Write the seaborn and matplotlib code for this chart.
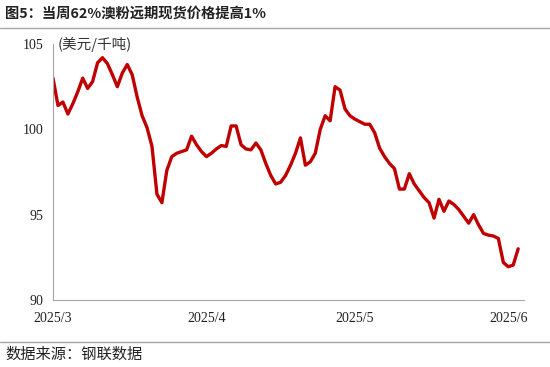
import pandas as pd
import matplotlib.pyplot as plt
import seaborn as sns

# Daily 62% Australian fines forward spot price, USD/t
start_date = '2025-03-01'
prices = [
    103.0, 101.4, 101.6, 100.9, 101.5, 102.2, 103.0, 102.4, 102.8, 103.9,
    104.2, 103.85, 103.2, 102.5, 103.3, 103.8, 103.2, 101.9, 100.8, 100.1,
    99.0, 96.2, 95.7, 97.6, 98.4, 98.6, 98.7, 98.8, 99.6, 99.1,
    98.7, 98.4, 98.6, 98.85, 99.05, 99.0, 100.2, 100.2, 99.1, 98.85,
    98.8, 99.2, 98.8, 98.0, 97.3, 96.8, 96.9, 97.3, 97.9, 98.6,
    99.5, 97.9, 98.1, 98.6, 100.0, 100.8, 100.5, 102.5, 102.3, 101.2,
    100.8, 100.6, 100.45, 100.3, 100.3, 99.8, 98.9, 98.4, 98.0, 97.7,
    96.5, 96.5, 97.4, 96.8, 96.4, 96.0, 95.7, 94.8, 95.9, 95.2,
    95.8, 95.6, 95.3, 94.9, 94.5, 95.0, 94.4, 93.9, 93.8, 93.75,
    93.6, 92.2, 91.95, 92.05, 93.0,
]
tick_dates = ['2025-03-01', '2025-04-01', '2025-05-01', '2025-06-01']
tick_labels = ['2025/3', '2025/4', '2025/5', '2025/6']
y_ticks = [90, 95, 100, 105]

df = pd.DataFrame({'date': pd.date_range(start_date, periods=len(prices), freq='D'),
                   'price': prices})

sns.set_style('white')
plt.rcParams['font.family'] = ['Noto Sans CJK SC', 'DejaVu Sans']

fig = plt.figure(figsize=(5.5, 3.67), dpi=100)
ax = fig.add_axes([0.0964, 0.1826, 0.8566, 0.6974])

sns.lineplot(data=df, x='date', y='price', color='#C00000', linewidth=2.4, ax=ax)
ax.lines[0].set_solid_joinstyle('round')
ax.lines[0].set_solid_capstyle('round')

ax.set_xlim(pd.Timestamp('2025-03-01'), pd.Timestamp('2025-06-04 05:00'))
ax.set_ylim(90, 105)
ax.set_xlabel('')
ax.set_ylabel('')

ax.set_xticks(pd.to_datetime(tick_dates))
ax.set_xticklabels(tick_labels, family='Liberation Serif', fontsize=10, color='#222222')
ax.set_yticks(y_ticks)
ax.set_yticklabels([str(v) for v in y_ticks], family='Liberation Serif', fontsize=10, color='#222222')
ax.tick_params(axis='x', direction='in', length=4, color='#A6A6A6', width=0.8, pad=9)
ax.tick_params(axis='y', direction='out', length=4, color='#A6A6A6', width=0.8, pad=3)

for side in ['top', 'right']:
    ax.spines[side].set_visible(False)
for side in ['left', 'bottom']:
    ax.spines[side].set_color('#A6A6A6')
    ax.spines[side].set_linewidth(0.8)

ax.text(0.01, 1.0, '(美元/千吨)', transform=ax.transAxes, fontsize=10.5,
        color='#333333', va='center', ha='left')

# Title, source and separator lines
fig.text(0.009, 0.962, '图5：当周62%澳粉远期现货价格提高1%', fontsize=10.3,
         fontweight='bold', color='#222222', va='center', ha='left')
fig.add_artist(plt.Line2D([0, 1], [1 - 28 / 367, 1 - 28 / 367], color='#A6A6A6', linewidth=1))
fig.add_artist(plt.Line2D([0, 1], [1 - 342 / 367, 1 - 342 / 367], color='#A6A6A6', linewidth=1))
fig.text(0.009, 1 - 354 / 367, '数据来源：钢联数据', fontsize=11, color='#222222',
         va='center', ha='left')

plt.savefig('out.png', dpi=100)
